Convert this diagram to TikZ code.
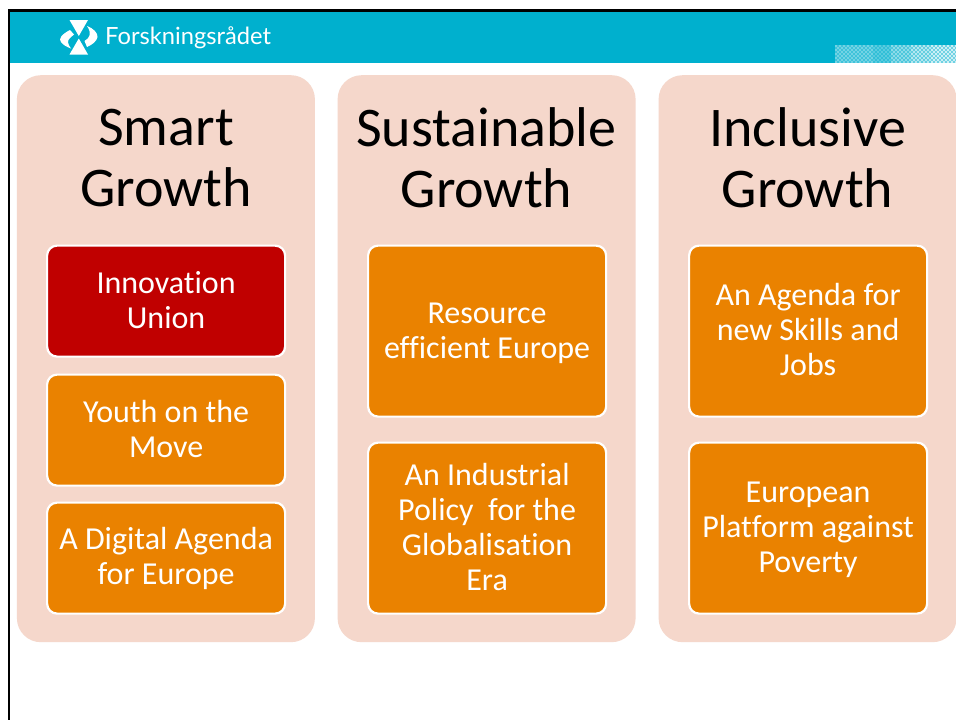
\documentclass[tikz,border=0pt]{standalone}
\usepackage{fontspec}
\setmainfont{Carlito}[Ligatures=NoCommon]
\newfontfamily\logofont{Lato}
\definecolor{band}{RGB}{0,176,206}
\definecolor{panel}{RGB}{245,215,203}
\definecolor{orangebox}{RGB}{234,130,0}
\definecolor{redbox}{RGB}{192,0,0}
\tikzset{
  panelbox/.style={fill=panel,draw=none,rounded corners=24pt,minimum width=298pt,minimum height=567pt,inner sep=0pt,anchor=north west},
  headtext/.style={text=black,font=\fontsize{56}{61}\selectfont,align=flush center,inner sep=0pt,anchor=center},
  itembox/.style={draw=white,line width=2.2pt,rounded corners=10pt,minimum width=238pt,text width=234pt,inner sep=0pt,align=flush center,text=white,font=\fontsize{32}{35}\selectfont,anchor=north west},
  orangeitem/.style={itembox,fill=orangebox},
  reditem/.style={itembox,fill=redbox},
  textup/.style={execute at end node={\par\vspace*{#1}}}
}
\begin{document}
\begin{tikzpicture}[x=1pt,y=-1pt]
\useasboundingbox (0,0) rectangle (956,720);
\fill[white] (0,0) rectangle (956,720);
% band
\fill[band] (9,11) rectangle (956,63);
% texture
\fill[white] (835,63) rectangle (956,65);
\foreach \i in {0,...,60}{
  \foreach \j in {0,...,8}{
    \pgfmathtruncatemacro{\m}{mod(\i+\j,2)}
    \pgfmathsetmacro{\op}{\i<19?0.45:(\i<28?0.35:(\i<38?0.55:(\i<48?0.7:0.8)))}
    \ifnum\m=0
      \fill[white,opacity=\op] ({835+2*\i},{45+2*\j}) rectangle ++(2,2);
    \else
      \fill[white,opacity=\op*0.55] ({835+2*\i},{45+2*\j}) rectangle ++(2,2);
    \fi
  }
}
% frame
\draw[black,line width=2.6pt] (9,720) -- (9,10.5) -- (956,10.5);
% logo
\fill[white] (69.5,20) -- (88,20) -- (78.8,36) -- cycle;
\fill[white] (69.5,54.5) -- (88,54.5) -- (78.8,38.5) -- cycle;
\fill[white] (70,30) .. controls (62,34) and (58,39) .. (61,42) .. controls (63,45) and (67,47) .. (71,48.5) .. controls (68,44) and (66,41) .. (71,37) -- (74,34.5) -- cycle;
\fill[white] (87,26) .. controls (93,28) and (98,33) .. (97.5,37) .. controls (97,41) and (92,45) .. (87,47) -- (84.5,41) .. controls (90,38) and (92,33) .. (87,26) -- cycle;
\node[inner sep=0pt,text=white,anchor=west,font=\logofont\fontsize{23.7}{28}\selectfont] (logotext) at (105,37.5) {Forskningsrådet};
% panels
\node[panelbox] (p1) at (16.7,75) {};
\node[panelbox] (p2) at (337.4,75) {};
\node[panelbox] (p3) at (658.4,75) {};
% heads
\node[headtext] (h1) at (166,158) {Smart\\Growth};
\node[headtext] (h2) at (486.5,158) {Sustainable\\Growth};
\node[headtext] (h3) at (807.5,158) {Inclusive\\Growth};
% items
\node[reditem,minimum height=111pt,textup=2pt] (a1) at (46,244.5) {Innovation\\Union};
\node[orangeitem,minimum height=111pt,textup=2pt] (a2) at (46,373.5) {Youth on the\\Move};
\node[orangeitem,minimum height=111pt] (a3) at (46,501.5) {A Digital Agenda\\for Europe};
\node[orangeitem,minimum height=171pt,textup=-4pt] (b1) at (367,244.5) {Resource\\efficient Europe};
\node[orangeitem,minimum height=171pt,textup=2pt] (b2) at (367,441.5) {An Industrial\\Policy~ for the\\Globalisation\\Era};
\node[orangeitem,minimum height=171pt,textup=4pt] (c1) at (688,244.5) {An Agenda for\\new Skills and\\Jobs};
\node[orangeitem,minimum height=171pt,textup=-4pt] (c2) at (688,441.5) {European\\Platform against\\Poverty};
\end{tikzpicture}
\end{document}
